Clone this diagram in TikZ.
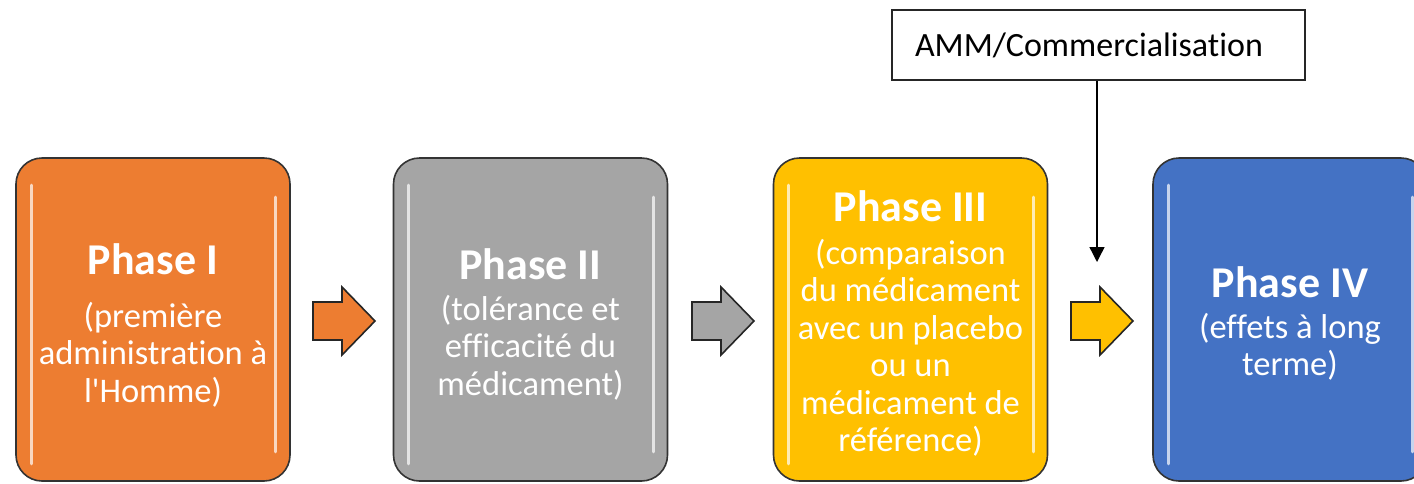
\documentclass[tikz,border=0pt]{standalone}
\usepackage{fontspec}
\setmainfont{Carlito}[Ligatures={TeXOff,NoCommon}]
\usetikzlibrary{arrows.meta,calc}
\definecolor{cOrange}{HTML}{ED7D31}
\definecolor{cGray}{HTML}{A5A5A5}
\definecolor{cGold}{HTML}{FFC000}
\definecolor{cBlue}{HTML}{4472C4}
\tikzset{
  phasebox/.style={draw=black!80, line width=1.6pt, rounded corners=26pt,
    minimum width=274pt, minimum height=323pt, inner sep=0pt},
  phasetext/.style={text=white, align=center, inner sep=0pt,
    font=\fontsize{34.5}{37.5}\selectfont},
  hl/.style={white, opacity=.7, line width=3pt, line cap=round},
  blockarrow/.style={draw=black!85, line width=1.6pt, line join=miter},
  ammbox/.style={draw=black!85, line width=1.3pt, minimum width=413pt, minimum height=70pt,
    inner xsep=23pt, text width=367pt, align=left, font=\fontsize{34}{40}\selectfont},
  conn/.style={line width=1.4pt, -{Triangle[width=15pt,length=15pt]}}
}
\newcommand{\ptitle}[1]{{\fontsize{44}{50}\selectfont\bfseries #1}}
\begin{document}
\begin{tikzpicture}[x=1pt,y=-1pt]
\useasboundingbox (0,0) rectangle (1414,483);
\clip (0,0) rectangle (1414,483);

\node[phasebox, fill=cOrange] (p1) at (153,319.5) {};
\node[phasebox, fill=cGray] (p2) at (530.5,319.5) {};
\node[phasebox, fill=cGold] (p3) at (910.5,319.5) {};
\node[phasebox, fill=cBlue] (p4) at (1290,319.5) {};

\foreach \b in {p1,p2,p3,p4}{
  \draw[hl] ($(\b.north west)+(16,28)$) -- ($(\b.south west)+(16,-18)$);
  \draw[hl] ($(\b.north east)+(-15,40)$) -- ($(\b.south east)+(-15,-30)$);
}

\node[phasetext] (t1) at ([yshift=-6pt]p1.center)
  {\ptitle{Phase I}\\[15pt](première\\administration à\\l'Homme)};
\node[phasetext] (t2) at ([yshift=-5pt]p2.center)
  {\ptitle{Phase II}\\[3pt](tolérance et\\efficacité du\\médicament)};
\node[phasetext] (t3) at ([yshift=-4pt]p3.center)
  {\ptitle{Phase III}\\[5pt](comparaison\\du médicament\\avec un placebo\\ou un\\médicament de\\référence)};
\node[phasetext] (t4) at ([yshift=-4pt]p4.center)
  {\ptitle{Phase IV}\\[3pt](effets à long\\terme)};

\foreach \x/\c in {313/cOrange,692/cGray,1071/cGold}
  \draw[blockarrow, fill=\c] (\x,302) -- (\x+29,302) -- (\x+29,287) -- (\x+62,321)
     -- (\x+29,355) -- (\x+29,340) -- (\x,340) -- cycle;

\node[ammbox] (amm) at (1098.5,45) {AMM/Commercialisation};
\coordinate (tip) at (1097,262);
\draw[conn] (amm.south -| tip) -- (tip);
\end{tikzpicture}
\end{document}
